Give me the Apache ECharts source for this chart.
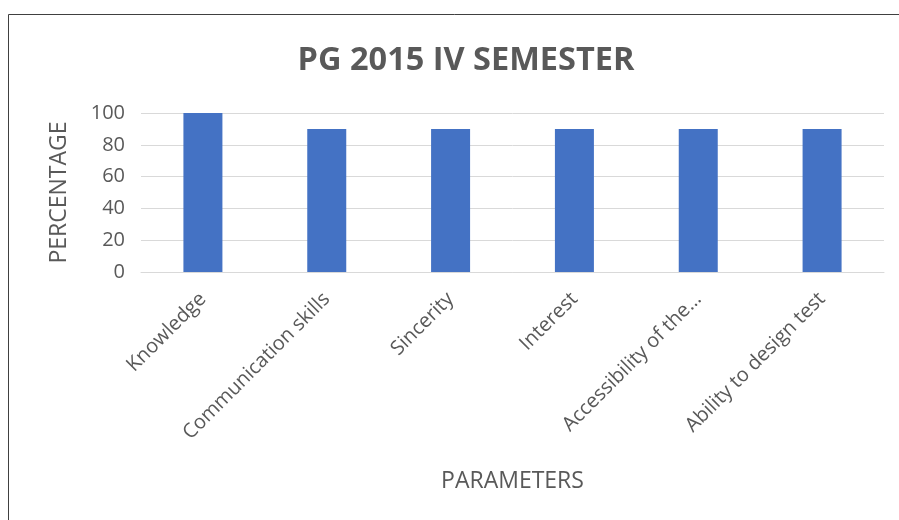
<!DOCTYPE html>
<html>
<head>
<meta charset="utf-8">
<script src="https://cdn.jsdelivr.net/npm/echarts@6/dist/echarts.min.js"></script>
<style>
  html, body { margin: 0; padding: 0; background: #fff; }
  #main { width: 899px; height: 520px; }
</style>
</head>
<body>
<div id="main"></div>
<script>
// data
var categories = ['Knowledge', 'Communication skills', 'Sincerity', 'Interest', 'Accessibility of the…', 'Ability to design test'];
var percentValues = [100, 90, 90, 90, 90, 90];
var yTicks = [0, 20, 40, 60, 80, 100];

var textColor = '#595959';
var font = '"Open Sans", sans-serif';

var myChart = echarts.init(document.getElementById('main'));

var option = {
    animation: false,
    title: {
        text: 'PG 2015 IV SEMESTER',
        left: 461,
        top: 39,
        textAlign: 'center',
        textStyle: {
            color: textColor,
            fontFamily: font,
            fontWeight: 'bold',
            fontSize: 32.5
        }
    },
    // chart frame (only top and left edges fall inside the picture)
    graphic: [{
        type: 'rect',
        shape: { x: 8.5, y: 14.5, width: 1000, height: 1000 },
        style: { fill: 'none', stroke: '#404040', lineWidth: 1 },
        silent: true
    }],
    grid: {
        left: 141,
        right: 15,
        top: 113,
        bottom: 248
    },
    xAxis: {
        type: 'category',
        data: categories,
        name: 'PARAMETERS',
        nameLocation: 'middle',
        nameGap: 198,
        nameTextStyle: { color: textColor, fontFamily: font, fontSize: 23 },
        axisLine: { lineStyle: { color: '#D9D9D9', width: 1 } },
        axisTick: { show: false },
        axisLabel: {
            rotate: 45,
            interval: 0,
            margin: 24,
            color: textColor,
            fontFamily: font,
            fontSize: 20
        }
    },
    yAxis: {
        type: 'value',
        min: yTicks[0],
        max: yTicks[yTicks.length - 1],
        interval: yTicks[1] - yTicks[0],
        name: 'PERCENTAGE',
        nameLocation: 'middle',
        nameGap: 70,
        nameRotate: 90,
        nameTextStyle: { color: textColor, fontFamily: font, fontSize: 23 },
        axisLine: { show: false },
        axisTick: { show: false },
        axisLabel: {
            margin: 16,
            color: textColor,
            fontFamily: font,
            fontSize: 20
        },
        splitLine: { lineStyle: { color: '#D9D9D9', width: 1 } }
    },
    series: [{
        name: 'PERCENTAGE',
        type: 'bar',
        data: percentValues,
        barWidth: 39,
        itemStyle: { color: '#4472C4' }
    }]
};

myChart.setOption(option);
</script>
</body>
</html>
